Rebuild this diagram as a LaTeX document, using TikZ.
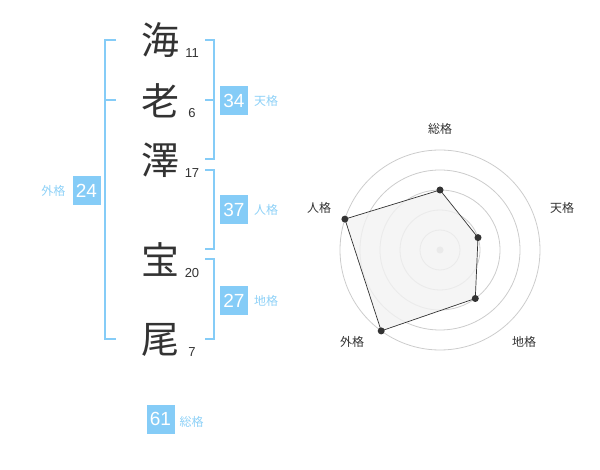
\documentclass[tikz,border=0pt]{standalone}
\usepackage{fontspec}
\setmainfont{Liberation Sans}
\newfontfamily\cjk{Noto Sans CJK JP}
\definecolor{bl}{HTML}{85CCF7}
\definecolor{bltxt}{HTML}{8ED1F7}
\definecolor{dk}{HTML}{333333}
\definecolor{ring}{HTML}{CCCCCC}
\definecolor{area}{HTML}{F2F2F2}
\tikzset{
  kanji/.style={font=\cjk\fontsize{38}{38}\selectfont, text=dk, inner sep=0pt},
  strokes/.style={font=\fontsize{13}{13}\selectfont, text=dk, inner sep=0pt},
  numbox/.style={fill=bl, text=white, font=\fontsize{19}{19}\selectfont, minimum width=28pt, minimum height=29pt, inner sep=0pt},
  kaku/.style={font=\cjk\fontsize{12}{12}\selectfont, text=bltxt, inner sep=0pt},
  bracket/.style={draw=bl, line width=2pt},
  axislabel/.style={font=\cjk\fontsize{12}{12}\selectfont, text=dk, inner sep=0pt},
  ringline/.style={draw=ring, line width=0.8pt},
  dot/.style={circle, fill=dk, minimum size=7pt, inner sep=0pt},
}
\begin{document}
\begin{tikzpicture}[x=1pt,y=-1pt]
\useasboundingbox (0,0) rectangle (600,470);
% characters
\node[kanji] (k1) at (160,40) {海};
\node[kanji] (k2) at (160,101) {老};
\node[kanji] (k3) at (160,160) {澤};
\node[kanji] (k4) at (160,260) {宝};
\node[kanji] (k5) at (160,340) {尾};
\node[strokes] (n1) at (192,53) {11};
\node[strokes] (n2) at (192,113) {6};
\node[strokes] (n3) at (192,173) {17};
\node[strokes] (n4) at (192,273) {20};
\node[strokes] (n5) at (192,352) {7};
% brackets
\draw[bracket] (116,40) -- (105,40) -- (105,339) -- (116,339);
\draw[bracket] (105,100) -- (116,100);
\draw[bracket] (205,40) -- (214,40) -- (214,159) -- (205,159);
\draw[bracket] (205,100) -- (214,100);
\draw[bracket] (205,170) -- (214,170) -- (214,249) -- (205,249);
\draw[bracket] (205,259) -- (214,259) -- (214,339) -- (205,339);
% boxes
\node[numbox] (ten) at (234,100.5) {34};
\node[kaku] (tenl) at (266,101) {天格};
\node[numbox] (jin) at (234,210) {37};
\node[kaku] (jinl) at (266,210) {人格};
\node[numbox] (chi) at (234,300.5) {27};
\node[kaku] (chil) at (266,301) {地格};
\node[numbox] (gai) at (86.5,190.5) {24};
\node[kaku] (gail) at (53.5,191) {外格};
\node[numbox] (sou) at (160.5,419) {61};
\node[kaku] (soul) at (191.5,422) {総格};
% radar
\coordinate (c) at (440,250);
\foreach \r in {20,40,60,80,100} \draw[ringline] (c) circle (\r);
\fill[ring] (c) circle (3.5);
\coordinate (pS) at (440,190);
\coordinate (pT) at (478.0,237.6);
\coordinate (pC) at (475.3,298.5);
\coordinate (pG) at (381.2,330.9);
\coordinate (pJ) at (344.9,219.1);
\filldraw[fill=area, fill opacity=0.8, draw=dk, line width=0.7pt] (pS) -- (pT) -- (pC) -- (pG) -- (pJ) -- cycle;
\foreach \p in {pS,pT,pC,pG,pJ} \node[dot] at (\p) {};
\node[axislabel] (aS) at (440,129) {総格};
\node[axislabel] (aT) at (562,208) {天格};
\node[axislabel] (aC) at (524,342) {地格};
\node[axislabel] (aG) at (352,342) {外格};
\node[axislabel] (aJ) at (319,208) {人格};
\end{tikzpicture}
\end{document}
